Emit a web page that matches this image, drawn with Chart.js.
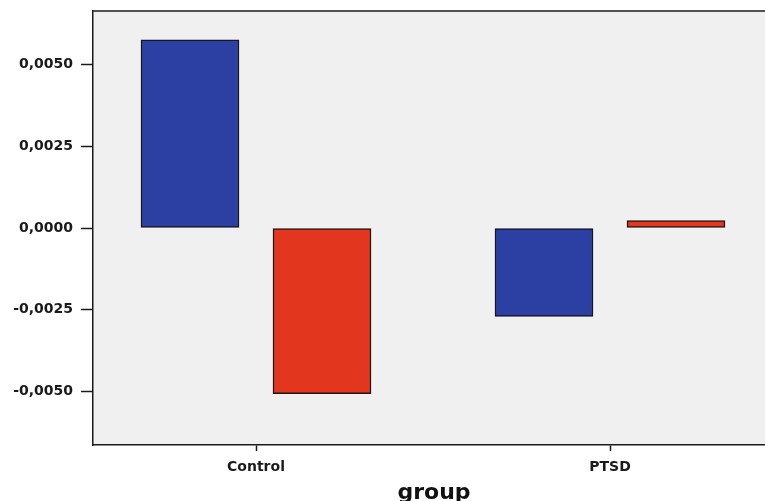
<!DOCTYPE html>
<html>
<head>
<meta charset="utf-8">
<script src="https://cdn.jsdelivr.net/npm/chart.js@4.4.1/dist/chart.umd.min.js"></script>
<style>
  html, body { margin: 0; padding: 0; background: #fff; overflow: hidden; }
  #wrap { width: 765px; height: 501px; overflow: hidden; }
  #box { width: 800px; height: 501px; position: relative; }
</style>
</head>
<body>
<div id="wrap"><div id="box"><canvas id="chart"></canvas></div></div>
<script>
// data
var groups = ["Control", "PTSD"];
var blueValues = [0.00577, -0.00271];
var redValues = [-0.00508, 0.00023];
var yTicks = [-0.005, -0.0025, 0, 0.0025, 0.005];

// bar centres sit a bit left/right of the group tick
var shift = 66 / 354;

function points(vals, dx) {
  return vals.map(function(v, i) { return { x: i + dx, y: v }; });
}

// grey plot background + top edge of the frame
var frame = {
  id: 'frame',
  beforeDraw: function(chart) {
    var c = chart.ctx, a = chart.chartArea;
    c.save();
    c.fillStyle = '#f0f0f0';
    c.fillRect(a.left, a.top, a.right - a.left, a.bottom - a.top);
    c.restore();
  },
  afterDraw: function(chart) {
    var c = chart.ctx, a = chart.chartArea;
    c.save();
    c.strokeStyle = '#1a1a1a';
    c.lineWidth = 1.5;
    c.beginPath();
    c.moveTo(a.left, a.top);
    c.lineTo(a.right, a.top);
    c.stroke();
    c.restore();
  }
};

var chartData = {
  datasets: [{
    label: "blue",
    data: points(blueValues, -shift),
    backgroundColor: "#2b40a2",
    borderColor: "#151520",
    borderWidth: 1.5,
    borderSkipped: false,
    grouped: false,
    barThickness: 98
  }, {
    label: "red",
    data: points(redValues, shift),
    backgroundColor: "#e2361f",
    borderColor: "#201515",
    borderWidth: 1.5,
    borderSkipped: false,
    grouped: false,
    barThickness: 98
  }]
};

var chartOptions = {
  responsive: true,
  maintainAspectRatio: false,
  animation: false,
  layout: { padding: { top: 11, right: 25, left: 0, bottom: 0 } },
  plugins: {
    legend: { display: false },
    tooltip: { enabled: false }
  },
  scales: {
    x: {
      type: 'linear',
      offset: false,
      min: -163 / 354,
      max: 1 + 165 / 354,
      afterBuildTicks: function(scale) {
        scale.ticks = groups.map(function(g, i) { return { value: i }; });
      },
      afterFit: function(scale) {
        scale.height = 56;
        scale.paddingLeft = 0;
        scale.paddingRight = 0;
      },
      ticks: {
        color: '#1a1a1a',
        padding: 8,
        maxRotation: 0,
        autoSkip: false,
        font: { family: 'DejaVu Sans', size: 14, weight: 'bold' },
        callback: function(v) { return groups[v]; }
      },
      grid: { offset: false, drawOnChartArea: false, tickLength: 6, color: '#1a1a1a', tickWidth: 1.5 },
      border: { color: '#1a1a1a', width: 1.5 },
      title: {
        display: true,
        text: 'group',
        color: '#111',
        padding: { top: 0, bottom: -5 },
        font: { family: 'DejaVu Sans', size: 22, weight: 'bold' }
      }
    },
    y: {
      min: -0.00665,
      max: 0.00665,
      afterBuildTicks: function(scale) {
        scale.ticks = yTicks.map(function(v) { return { value: v }; });
      },
      afterFit: function(scale) {
        scale.width = 93;
        scale.paddingTop = 0;
        scale.paddingBottom = 0;
      },
      ticks: {
        color: '#1a1a1a',
        padding: 8,
        font: { family: 'DejaVu Sans', size: 14, weight: 'bold' },
        callback: function(v) { return v.toFixed(4).replace('.', ','); }
      },
      grid: { drawOnChartArea: false, tickLength: 12, color: '#1a1a1a', tickWidth: 1.5 },
      border: { color: '#1a1a1a', width: 1.5 }
    }
  }
};

var ctx = document.getElementById("chart");
var barChart = new Chart(ctx, {
  type: 'bar',
  data: chartData,
  options: chartOptions,
  plugins: [frame]
});
</script>
</body>
</html>
